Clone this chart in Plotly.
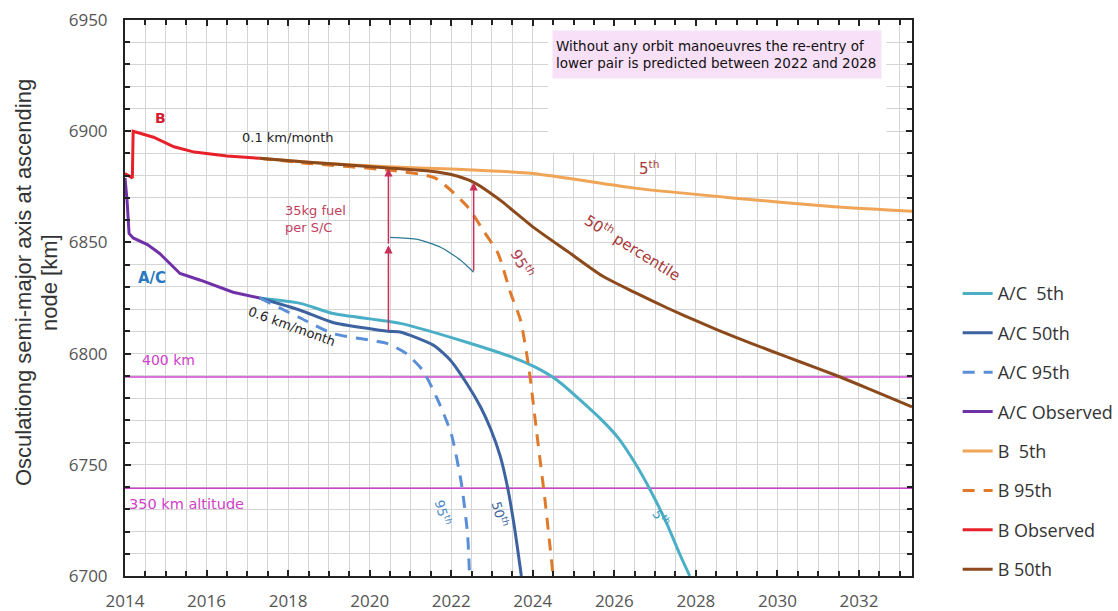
import plotly.graph_objects as go

# ---------------- data ----------------
ac_obs_x = [2014.0, 2014.05, 2014.1, 2014.2, 2014.55, 2014.85, 2015.35, 2015.85, 2016.65, 2017.3]
ac_obs_y = [6879, 6869, 6854, 6852, 6849, 6845, 6836, 6833, 6827.6, 6825]

ac5_x = [2017.3, 2018.3, 2019.1, 2020.75, 2022.4, 2023.55, 2024.05, 2024.6, 2025.7, 2026.1, 2026.5, 2026.9, 2027.3, 2027.6, 2027.85]
ac5_y = [6825, 6822.6, 6818, 6813.6, 6805, 6798, 6794, 6788, 6770, 6762, 6751, 6738, 6723, 6710, 6700]

ac50_x = [2017.3, 2018.3, 2019.1, 2020.45, 2020.75, 2021.57, 2021.98, 2022.4, 2022.72, 2022.97, 2023.2, 2023.38, 2023.55, 2023.72]
ac50_y = [6825, 6819.5, 6814, 6810, 6809.7, 6803.7, 6797, 6786, 6776, 6766, 6754, 6740, 6722, 6700]

ac95_x = [2017.3, 2018.3, 2019.1, 2020.44, 2020.9, 2021.3, 2021.65, 2022.0, 2022.25, 2022.4, 2022.45]
ac95_y = [6825, 6816, 6809, 6804.5, 6800, 6792.5, 6780, 6764, 6741.6, 6719, 6700]

b_obs_x = [2014.0, 2014.18, 2014.2, 2014.3, 2014.7, 2015.2, 2015.7, 2016.5, 2017.3]
b_obs_y = [6881, 6879, 6900, 6899.5, 6897.3, 6893, 6890.6, 6888.8, 6887.8]

b5_x = [2017.3, 2018.5, 2020.46, 2022.0, 2024.0, 2026.5, 2028.9, 2031.4, 2033.3]
b5_y = [6887.8, 6886, 6884, 6883, 6881, 6874.4, 6870, 6866, 6864]

b50_x = [2017.3, 2018.5, 2020.46, 2021.5, 2022.0, 2022.55, 2023.2, 2024.0, 2024.85, 2025.7, 2026.5,
         2027.3, 2028.1, 2028.95, 2029.8, 2030.6, 2031.4, 2032.2, 2033.3]
b50_y = [6887.8, 6886, 6883.5, 6882, 6880.5, 6877, 6869, 6857, 6846, 6835, 6827.5,
         6820.5, 6814, 6807.5, 6801.5, 6796, 6790.5, 6784.5, 6776]

b95_x = [2017.3, 2018.5, 2020.46, 2021.6, 2022.4, 2022.8, 2023.15, 2023.46, 2023.7, 2023.9, 2024.1, 2024.3, 2024.5]
b95_y = [6887.8, 6885.5, 6882.5, 6879, 6866, 6855, 6845, 6827, 6815, 6794, 6764, 6734, 6700]

fuel_x = [2020.5, 2021.17, 2021.74, 2022.23, 2022.55]
fuel_y = [6852.3, 6851.4, 6847.8, 6842, 6836.6]

alt400_km = 6789.5
alt350_km = 6739.5

x_ticks = [2014, 2016, 2018, 2020, 2022, 2024, 2026, 2028, 2030, 2032]
y_ticks = [6700, 6750, 6800, 6850, 6900, 6950]

# ---------------- figure ----------------
fig = go.Figure()

series = [
    ("A/C\u00a0\u00a05th", ac5_x, ac5_y, "#4aafc6", "solid", "spline"),
    ("A/C 50th", ac50_x, ac50_y, "#3d62a0", "solid", "spline"),
    ("A/C 95th", ac95_x, ac95_y, "#5a8fd8", "12px,9px", "spline"),
    ("A/C Observed", ac_obs_x, ac_obs_y, "#7030a8", "solid", "linear"),
    ("B\u00a0\u00a05th", b5_x, b5_y, "#f0a456", "solid", "spline"),
    ("B 95th", b95_x, b95_y, "#e07a2a", "12px,9px", "spline"),
    ("B Observed", b_obs_x, b_obs_y, "#e8202a", "solid", "linear"),
    ("B 50th", b50_x, b50_y, "#8c4a1c", "solid", "spline"),
]

# fuel curve (not in legend)
fig.add_trace(go.Scatter(x=fuel_x, y=fuel_y, mode="lines", showlegend=False,
                         line=dict(color="#2c7a96", width=1.3, shape="spline", smoothing=0.6),
                         hoverinfo="skip"))

for i, (name, xs, ys, col, dash, shp) in enumerate(series):
    line = dict(color=col, width=3, dash=dash, shape=shp)
    if shp == "spline":
        line["smoothing"] = 0.6
    fig.add_trace(go.Scatter(x=xs, y=ys, mode="lines", name=name, legendgroup=f"g{i}", line=line))

shapes = [
    dict(type="rect", xref="x", yref="y", x0=2024.37, x1=2032.67, y0=6890.4, y1=6950,
         fillcolor="white", line=dict(width=0), layer="between"),
    dict(type="line", xref="x", yref="y", x0=2014, x1=2033.3, y0=alt400_km, y1=alt400_km,
         line=dict(color="#cc44cc", width=1.5), layer="between"),
    dict(type="line", xref="x", yref="y", x0=2014, x1=2033.3, y0=alt350_km, y1=alt350_km,
         line=dict(color="#cc44cc", width=1.5), layer="between"),
]

ann_font = "DejaVu Sans"
annotations = [
    dict(x=2014.88, y=6905.9, text="<b>B</b>", font=dict(color="#d42030", size=14, family=ann_font)),
    dict(x=2018.0, y=6897.3, text="0.1 km/month", font=dict(color="#222", size=13, family=ann_font)),
    dict(x=2014.66, y=6833.9, text="<b>A/C</b>", font=dict(color="#2878c0", size=15, family=ann_font)),
    dict(x=2017.88, y=6860.4, text="35kg fuel<br>per S/C", xanchor="left", align="left",
         font=dict(color="#c04060", size=13, family=ann_font)),
    dict(x=2018.1, y=6812.3, text="0.6 km/month", textangle=20, font=dict(color="#222", size=13, family=ann_font)),
    dict(x=2026.85, y=6883.4, text="5<sup>th</sup>", font=dict(color="#a83838", size=15, family=ann_font)),
    dict(x=2026.46, y=6847.8, text="50<sup>th</sup> percentile", textangle=32,
         font=dict(color="#a83838", size=15, family=ann_font)),
    dict(x=2023.75, y=6840.8, text="95<sup>th</sup>", textangle=62, font=dict(color="#b04050", size=15, family=ann_font)),
    dict(x=2021.79, y=6728.6, text="95<sup>th</sup>", textangle=75, font=dict(color="#4a86c8", size=13, family=ann_font)),
    dict(x=2023.21, y=6728.1, text="50<sup>th</sup>", textangle=75, font=dict(color="#3d62a0", size=13, family=ann_font)),
    dict(x=2027.15, y=6725.9, text="5<sup>th</sup>", textangle=55, font=dict(color="#3aa0b8", size=13, family=ann_font)),
    dict(x=2014.37, y=6797.3, text="400 km", xanchor="left", font=dict(color="#d040c8", size=14, family=ann_font)),
    dict(x=2014.05, y=6732.5, text="350 km altitude", xanchor="left", font=dict(color="#d040c8", size=14.5, family=ann_font)),
    dict(x=2028.52, y=6934.6, text="Without any orbit manoeuvres the re-entry of<br>lower pair is predicted between 2022 and 2028",
         align="left", bgcolor="#f8e0f8", borderpad=3, width=322, height=41,
         font=dict(color="#111", size=13.5, family=ann_font)),
]
for a in annotations:
    a.update(xref="x", yref="y", showarrow=False)

# y-axis title as two rotated lines
title_font = dict(family="Liberation Sans", size=22, color="#333")
annotations.append(dict(xref="paper", yref="paper", x=(24 - 125) / 787, y=(576 - 283) / 556,
                        xanchor="center", yanchor="middle",
                        text="Osculationg semi-major axis at ascending", textangle=-90, showarrow=False, font=title_font))
annotations.append(dict(xref="paper", yref="paper", x=(50 - 125) / 787, y=(576 - 283) / 556,
                        xanchor="center", yanchor="middle",
                        text="node [km]", textangle=-90, showarrow=False, font=title_font))

arrow_col = "#c8305a"
arrows = [
    (2020.46, 6809.6, 2020.46, 6848.7),
    (2020.46, 6848.7, 2020.46, 6883.3),
    (2022.55, 6836.6, 2022.55, 6877.0),
]
for (x0, y0, x1, y1) in arrows:
    annotations.append(dict(x=x1, y=y1, ax=x0, ay=y0, xref="x", yref="y", axref="x", ayref="y",
                            text="", showarrow=True, arrowhead=2, arrowsize=1.1, arrowwidth=1.5,
                            arrowcolor=arrow_col))

fig.update_layout(
    width=1118, height=611,
    margin=dict(l=125, r=206, t=20, b=35, autoexpand=False),
    paper_bgcolor="white", plot_bgcolor="white",
    shapes=shapes, annotations=annotations,
    showlegend=True,
    legend=dict(x=1.058, y=0.541, xanchor="left", yanchor="top", traceorder="grouped",
                tracegroupgap=13, font=dict(family="Open Sans", size=18, color="#333"),
                bgcolor="rgba(0,0,0,0)"),
    xaxis=dict(range=[2014, 2033.3], tickvals=x_ticks, ticks="inside", ticklen=6, tickwidth=1.5,
               tickcolor="#222", showgrid=True, gridcolor="#d4d4d4", gridwidth=1,
               minor=dict(dtick=0.5, tick0=2014, ticks="inside", ticklen=5, tickcolor="#222",
                          showgrid=True, gridcolor="#d4d4d4", gridwidth=1),
               showline=True, linecolor="#222", linewidth=2, mirror="allticks",
               tickfont=dict(family="Open Sans", size=17, color="#555"), ticklabelstandoff=9,
               zeroline=False, automargin=False),
    yaxis=dict(range=[6700, 6950], tickvals=y_ticks, ticks="inside", ticklen=6, tickwidth=1.5,
               tickcolor="#222", showgrid=True, gridcolor="#d4d4d4", gridwidth=1,
               minor=dict(dtick=10, tick0=6700, ticks="inside", ticklen=5, tickcolor="#222",
                          showgrid=True, gridcolor="#d4d4d4", gridwidth=1),
               showline=True, linecolor="#222", linewidth=2, mirror="allticks",
               tickfont=dict(family="Open Sans", size=17, color="#555"), ticklabelstandoff=12,
               zeroline=False, automargin=False),
)

fig.write_html("out.html")
